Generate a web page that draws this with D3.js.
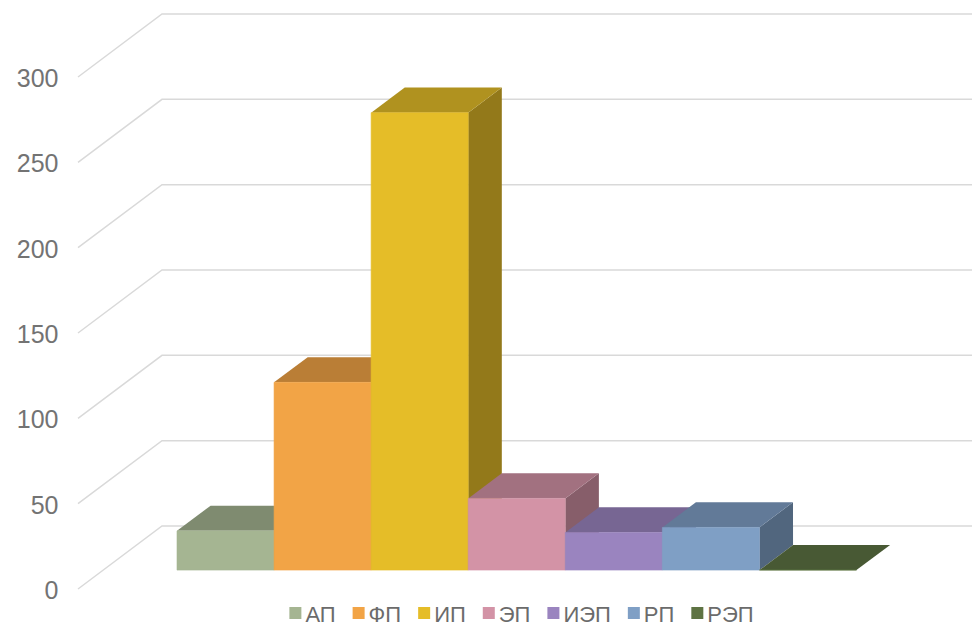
<!DOCTYPE html>
<html>
<head>
<meta charset="utf-8">
<script src="https://cdn.jsdelivr.net/npm/d3@7"></script>
<style>
  html, body { margin: 0; padding: 0; background: #ffffff; }
  svg { display: block; }
</style>
</head>
<body>
<svg id="chart" width="972" height="625"></svg>
<script>
// ---- data ----
const categories = ["АП", "ФП", "ИП", "ЭП", "ИЭП", "РП", "РЭП"];
const values = [23, 110, 268, 42, 22, 25, 0];
const colors = ["#A5B592", "#F2A446", "#E5BD28", "#D393A6", "#9A84BF", "#7F9FC5", "#5E7343"];
const yTicks = [0, 50, 100, 150, 200, 250, 300];

// ---- layout ----
const W = 972, H = 625;
const svg = d3.select("#chart");

const yScale = d3.scaleLinear().domain([0, 300]).range([589, 77]);
const depthX = 84, depthY = -63;          // oblique depth vector (full depth)
const barDepth0 = 0.3, barDepth1 = 0.7;    // bars sit in middle of the floor depth
const xScale = d3.scaleBand().domain(categories)
  .range([151.8, 831.3]).paddingInner(0).paddingOuter(0);

function project(x, v, t) {
  return [x + depthX * t, yScale(v) + depthY * t];
}
function poly(pts) {
  return "M" + pts.map(p => p[0].toFixed(2) + "," + p[1].toFixed(2)).join("L") + "Z";
}
function shade(c, k) {
  const r = d3.rgb(c);
  return d3.rgb(r.r * k, r.g * k, r.b * k).formatHex();
}

// ---- walls / gridlines ----
const grid = svg.append("g");
const gridLeftX = 78;
yTicks.forEach(v => {
  const a = project(gridLeftX, v, 0);
  const b = project(gridLeftX, v, 1);
  grid.append("path")
    .attr("d", `M${a[0]},${a[1]}L${b[0]},${b[1]}L${W},${b[1]}`)
    .attr("fill", "none")
    .attr("stroke", "#d9d9d9")
    .attr("stroke-width", 1.5);
});

// ---- axis labels ----
svg.append("g").selectAll("text").data(yTicks).enter().append("text")
  .attr("x", 58.5)
  .attr("y", d => yScale(d) + 1)
  .attr("text-anchor", "end")
  .attr("dominant-baseline", "central")
  .attr("font-family", "Liberation Sans, Arial, sans-serif")
  .attr("font-size", 25)
  .attr("fill", "#737373")
  .text(d => d);

// ---- bars ----
const bars = svg.append("g");
categories.forEach((c, i) => {
  const x0 = xScale(c), x1 = x0 + xScale.bandwidth();
  const v = values[i];
  const col = colors[i];
  const g = bars.append("g");
  // right side
  g.append("path").attr("d", poly([
    project(x1, 0, barDepth0), project(x1, v, barDepth0),
    project(x1, v, barDepth1), project(x1, 0, barDepth1)
  ])).attr("fill", shade(col, 0.64));
  // top
  g.append("path").attr("d", poly([
    project(x0, v, barDepth0), project(x1, v, barDepth0),
    project(x1, v, barDepth1), project(x0, v, barDepth1)
  ])).attr("fill", shade(col, 0.77));
  // front
  g.append("path").attr("d", poly([
    project(x0, 0, barDepth0), project(x1, 0, barDepth0),
    project(x1, v, barDepth0), project(x0, v, barDepth0)
  ])).attr("fill", col).attr("stroke", col).attr("stroke-width", 0.6);
});

// ---- legend ----
const legend = svg.append("g");
const fontL = "22px 'Liberation Sans', Arial, sans-serif";
const ctx = document.createElement("canvas").getContext("2d");
ctx.font = fontL;
const markerSize = 12, markerGap = 4, itemGap = 17;
const widths = categories.map(c => markerSize + markerGap + ctx.measureText(c).width);
const total = d3.sum(widths) + itemGap * (categories.length - 1);
let lx = 521.5 - total / 2;
const ly = 613;
categories.forEach((c, i) => {
  legend.append("rect")
    .attr("x", lx).attr("y", ly - markerSize / 2)
    .attr("width", markerSize).attr("height", markerSize)
    .attr("fill", colors[i]);
  legend.append("text")
    .attr("x", lx + markerSize + markerGap)
    .attr("y", ly + 1)
    .attr("dominant-baseline", "central")
    .attr("font-family", "Liberation Sans, Arial, sans-serif")
    .attr("font-size", 22)
    .attr("fill", "#6b6b6b")
    .text(c);
  lx += widths[i] + itemGap;
});
</script>
</body>
</html>
